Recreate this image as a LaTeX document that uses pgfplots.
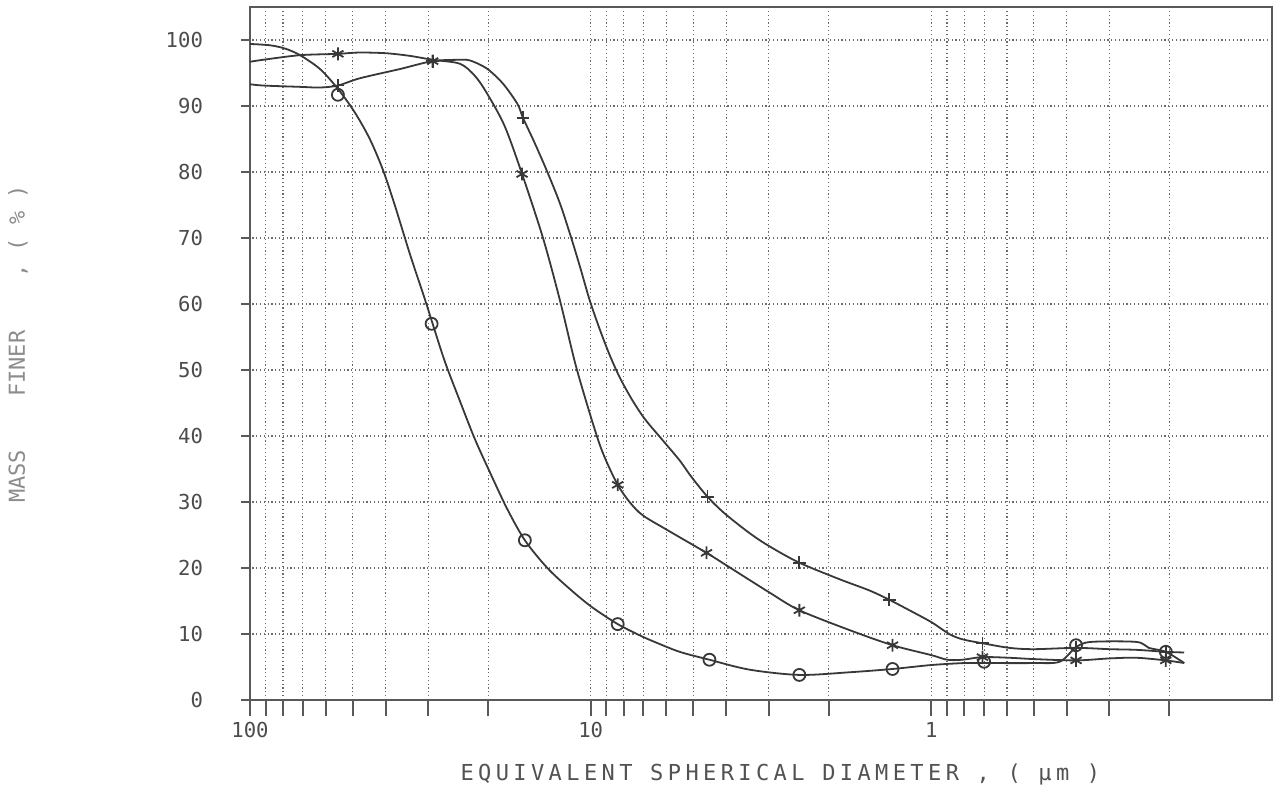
\documentclass[border=0pt]{standalone}
\usepackage{fontspec}
\setmainfont{DejaVu Sans Mono}
\newfontfamily\xlabfont{DejaVu Sans Mono}[LetterSpace=20]
\usepackage{pgfplots}
\pgfplotsset{compat=1.18}

\definecolor{ink}{gray}{0.22}
\definecolor{frame}{gray}{0.35}
\definecolor{gridc}{gray}{0.42}
\definecolor{ticktext}{gray}{0.30}
\definecolor{xlabtext}{gray}{0.32}
\definecolor{ylabtext}{gray}{0.55}

% Mass finer (%) against equivalent spherical diameter (micrometres)
\pgfplotstableread{
d      v
100    99.4
87.4   99.2
78.9   98.7
71.3   97.7
62.3   95.6
55.2   92.6
49.2   89.0
44.5   85.0
40.7   80.3
37.6   75.0
33.9   67.5
30.7   60.8
29.3   57.5
26.8   51.3
24.2   45.3
21.9   39.6
19.8   34.6
17.6   29.0
15.6   24.2
13.4   20.0
11.5   16.8
9.93   14.1
8.33   11.5
7.18   9.8
6.49   8.8
5.48   7.3
4.48   6.1
3.42   4.6
2.44   3.8
1.74   4.2
1.30   4.7
1.0    5.3
0.8    5.6
0.7    5.6
0.5    5.6
0.42   5.8
0.376  8.0
0.34   8.8
0.25   8.8
0.23   7.9
0.205  7.3
0.181  5.6
}\curveA

\pgfplotstableread{
d      v
55.2   91.7
29.3   57.0
15.6   24.2
8.33   11.5
4.48   6.1
2.44   3.8
1.30   4.7
0.70   5.8
0.376  8.3
0.205  7.3
}\pointsA

\pgfplotstableread{
d      v
100    96.7
91.6   97.0
71.3   97.7
55.2   97.9
48     98.1
40     98.0
34     97.6
29.1   97.0
24.2   96.4
21.9   94.6
20.2   92.0
17.9   87.0
15.9   79.7
13.8   70.0
12.3   60.5
11.1   51.0
10.07  43.5
9.42   38.8
8.98   36.1
8.33   32.6
7.69   30.0
7.04   28.0
5.98   25.8
4.57   22.3
4.05   20.6
2.99   16.3
2.44   13.6
1.74   10.6
1.30   8.3
1.0    6.8
0.898  6.1
0.811  6.1
0.708  6.5
0.59   6.4
0.5    6.2
0.376  6.0
0.3    6.3
0.25   6.4
0.205  6.0
0.181  5.6
}\curveB

\pgfplotstableread{
d      v
55.2   97.9
29.1   96.8
15.9   79.7
8.33   32.6
4.57   22.3
2.44   13.6
1.30   8.3
0.708  6.5
0.376  6.0
0.205  6.0
}\pointsB

\pgfplotstableread{
d      v
100    93.3
91.6   93.1
71.3   92.9
62.3   92.8
55.2   93.1
47.6   94.2
36.3   95.6
29.1   96.8
24.2   97.0
22.6   96.9
20.2   95.7
18.1   93.4
16.4   90.3
15.8   88.2
14.6   84.4
13.4   80.0
12.3   75.2
11.4   70.0
10.7   65.3
10.07  60.6
9.41   56.2
8.80   52.3
8.22   48.9
7.58   45.6
6.94   42.6
6.11   39.2
5.48   36.3
5.06   33.8
4.54   30.8
4.05   28.3
3.42   25.3
2.99   23.3
2.44   20.8
1.86   18.3
1.52   16.6
1.33   15.2
1.16   13.6
1.0    11.8
0.886  10.0
0.811  9.2
0.708  8.6
0.59   7.9
0.5    7.7
0.376  7.9
0.3    7.7
0.25   7.6
0.205  7.3
0.181  7.2
}\curveC

\pgfplotstableread{
d      v
55.2   93.1
29.1   96.8
15.8   88.2
4.54   30.8
2.44   20.8
1.33   15.2
0.708  8.6
0.376  7.9
0.205  7.3
}\pointsC

\begin{document}
\begin{tikzpicture}
\begin{axis}[
  name=main,
  scale only axis,
  width=511pt, height=346.5pt,
  xmode=log, x dir=reverse,
  xmin=0.1, xmax=100,
  ymin=0, ymax=105,
  axis line style={draw=frame, line width=1.1pt},
  xtick={1,10,100}, xticklabels={1,10,100},
  minor xtick={0.2,0.3,0.4,0.5,0.6,0.7,0.8,0.9,2,3,4,5,6,7,8,9,20,30,40,50,60,70,80,90},
  ytick={0,10,...,100},
  tick pos=left, tick align=outside,
  major tick length=8pt, minor tick length=8pt,
  xtick style={draw=frame, line width=1pt},
  ytick style={draw=frame, line width=0.8pt, dash pattern=on 0pt off 3.5pt on 4.5pt off 20pt},
  grid=both,
  major grid style={draw=gridc, line width=0.6pt, dash pattern=on 0.6pt off 1.3pt},
  minor grid style={draw=gridc, line width=0.6pt, dash pattern=on 0.6pt off 1.3pt},
  /pgf/number format/assume math mode=true,
  ticklabel style={font=\fontsize{10.3}{12}\selectfont, text=ticktext},
  xticklabel style={anchor=center, yshift=-7pt},
  yticklabel style={anchor=east, xshift=-12pt},
  xlabel={EQUIVALENT SPHERICAL DIAMETER , ( µm )},
  xlabel style={font=\xlabfont\fontsize{11}{13}\selectfont, text=xlabtext, at={(axis description cs:0.519,-0.108)}, anchor=center},
  ylabel={MASS\ \ \ \ FINER\ \ \ \ ,\ (\ \%\ )},
  ylabel style={font=\fontsize{11}{13}\selectfont, text=ylabtext, at={(axis description cs:-0.227,0.514)}, anchor=center, rotate=0},
  clip=false,
]
\addplot[ink, line width=0.9pt, smooth] table[x=d, y=v] {\curveA};
\addplot[ink, line width=0.9pt, smooth] table[x=d, y=v] {\curveB};
\addplot[ink, line width=0.9pt, smooth] table[x=d, y=v] {\curveC};
\addplot[only marks, mark=o, mark size=3pt, mark options={ink, line width=0.9pt}] table[x=d, y=v] {\pointsA};
\addplot[only marks, mark=asterisk, mark size=3.2pt, mark options={ink, line width=0.9pt}] table[x=d, y=v] {\pointsB};
\addplot[only marks, mark=+, mark size=3.2pt, mark options={ink, line width=0.9pt}] table[x=d, y=v] {\pointsC};
\end{axis}
\pgfresetboundingbox
\path[use as bounding box] ([shift={(-125pt,-43.5pt)}]main.south west) rectangle ([shift={(3.5pt,3.5pt)}]main.north east);
\end{tikzpicture}
\end{document}
